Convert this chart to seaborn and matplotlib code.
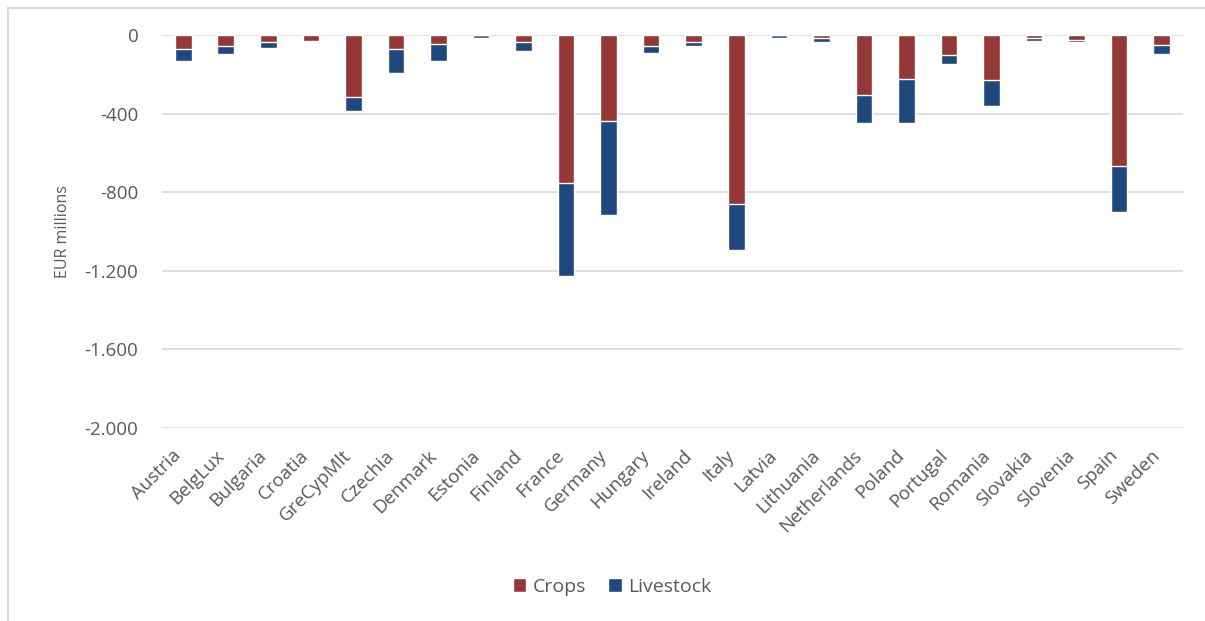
import matplotlib
matplotlib.use("Agg")
import matplotlib.pyplot as plt
import matplotlib.transforms as mtransforms
from matplotlib.patches import Patch, Rectangle
from matplotlib.ticker import FuncFormatter
import pandas as pd
import seaborn as sns

# Values in EUR millions
countries = ["Austria", "BelgLux", "Bulgaria", "Croatia", "GreCypMlt", "Czechia",
             "Denmark", "Estonia", "Finland", "France", "Germany", "Hungary",
             "Ireland", "Italy", "Latvia", "Lithuania", "Netherlands", "Poland",
             "Portugal", "Romania", "Slovakia", "Slovenia", "Spain", "Sweden"]
crops = [-70, -58, -38, -31, -316, -70, -48, -1, -38, -755, -439, -58,
         -38, -858, -1, -13, -306, -224, -100, -231, -13, -27, -668, -49]
livestock = [-60, -41, -30, -7, -70, -121, -82, -12, -41, -470, -479, -31,
             -20, -236, -12, -22, -142, -224, -47, -132, -18, -8, -234, -48]
yticks = [0, -400, -800, -1200, -1600, -2000]

RED = "#953735"
BLUE = "#1F497D"
GREY_TEXT = "#595959"
GRID = "#d9d9d9"

df = pd.DataFrame({"country": countries, "crops": crops, "livestock": livestock})
df["total"] = df["crops"] + df["livestock"]

sns.set_theme(style="white")
plt.rcParams["font.family"] = ["Open Sans", "DejaVu Sans"]

fig = plt.figure(figsize=(12.05, 6.21), dpi=100)
ax = fig.add_axes([0.1344, 0.3108, 0.8473, 0.6328])

# stacked look: total in blue underneath, crops in red on top
sns.barplot(data=df, x="country", y="total", color=BLUE, width=0.39,
            saturation=1, ax=ax, zorder=3)
sns.barplot(data=df, x="country", y="crops", color=RED, width=0.39,
            saturation=1, ax=ax, zorder=4)

ax.set_ylim(-2000, 0)
ax.set_xlim(-0.5, len(countries) - 0.5)
ax.set_yticks(yticks)
ax.yaxis.set_major_formatter(FuncFormatter(lambda v, p: f"{int(v):,}".replace(",", ".")))
ax.grid(axis="y", color=GRID, linewidth=1.2, zorder=0)
ax.set_axisbelow(True)
for s in ax.spines.values():
    s.set_visible(False)
ax.tick_params(axis="both", length=0, colors=GREY_TEXT, labelsize=13.5)
ax.tick_params(axis="y", pad=17)
ax.tick_params(axis="x", pad=4)

# rotated labels, nudged left/down so their end sits just left of the bar
shift = mtransforms.ScaledTranslation(-11 / 100, -13 / 100, fig.dpi_scale_trans)
for lbl in ax.get_xticklabels():
    lbl.set_rotation(45)
    lbl.set_ha("right")
    lbl.set_rotation_mode("anchor")
    lbl.set_transform(lbl.get_transform() + shift)

ax.set_xlabel("")
ax.set_ylabel("EUR millions", color=GREY_TEXT, fontsize=11.5, labelpad=10)

handles = [Patch(facecolor=RED, label="Crops"), Patch(facecolor=BLUE, label="Livestock")]
fig.legend(handles=handles, loc="center", bbox_to_anchor=(0.508, 0.055), ncol=2,
           frameon=False, fontsize=14, handlelength=0.7, handleheight=0.7,
           handletextpad=0.35, columnspacing=1.1, labelcolor=GREY_TEXT)

# chart-area border (left and top edges visible in the reference)
fig.add_artist(Rectangle((8 / 1205, -0.1), 1.2, 1 - 8 / 621 + 0.1,
                         transform=fig.transFigure, fill=False,
                         edgecolor=GRID, linewidth=1.5))

fig.savefig("out.png", dpi=100, facecolor="white")
